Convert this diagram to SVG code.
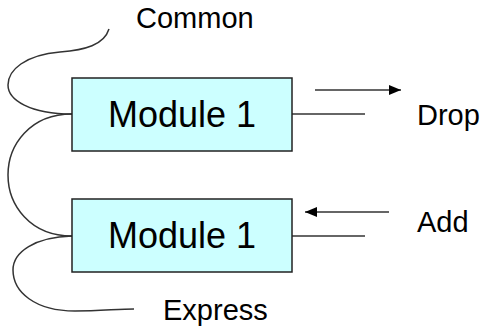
<svg xmlns="http://www.w3.org/2000/svg" width="481" height="331" viewBox="0 0 481 331">
<style>
.box{fill:#CCFFFF;stroke:#222;stroke-width:1.5}
.mod{font-family:"Liberation Sans",Arial,sans-serif;font-size:36px;fill:#000;text-anchor:middle}
.lbl{font-family:"Liberation Sans",Arial,sans-serif;font-size:29px;fill:#000}
.ln{fill:none;stroke:#333;stroke-width:1.5}
</style>
<defs>
<marker id="ah" viewBox="0 0 12 10" refX="12" refY="5" markerWidth="12" markerHeight="10" markerUnits="userSpaceOnUse" orient="auto">
<path d="M0,0 L12,5 L0,10 Z" fill="#000"/>
</marker>
</defs>
<rect width="481" height="331" fill="#fff"/>
<g id="connectors">
<path class="ln" d="M109,29 C104,45 85,50 60,52 C25,55 8,70 8,85 C8,100 30,114 72,114"/>
<path class="ln" d="M72,114 C30,114 8,145 8,175 C8,205 30,236 72,236"/>
<path class="ln" d="M72,236 C35,237 13,252 13,270 C13,292 35,311 75,311 C100,311 118,309 134,309"/>
<line class="ln" x1="292" y1="114" x2="365" y2="114"/>
<line class="ln" x1="292" y1="236" x2="365" y2="236"/>
<line class="ln" stroke="#000" x1="315" y1="90" x2="401" y2="90" marker-end="url(#ah)"/>
<line class="ln" stroke="#000" x1="389" y1="212" x2="305" y2="212" marker-end="url(#ah)"/>
</g>
<g id="module1">
<rect class="box" x="72" y="78" width="220" height="73"/>
<text class="mod" x="182" y="127">Module 1</text>
</g>
<g id="module2">
<rect class="box" x="72" y="199" width="220" height="73"/>
<text class="mod" x="182" y="248">Module 1</text>
</g>
<g id="common"><text class="lbl" x="136" y="28">Common</text></g>
<g id="express"><text class="lbl" x="163" y="320">Express</text></g>
<g id="drop"><text class="lbl" x="417" y="125">Drop</text></g>
<g id="add"><text class="lbl" x="417" y="232">Add</text></g>
</svg>
